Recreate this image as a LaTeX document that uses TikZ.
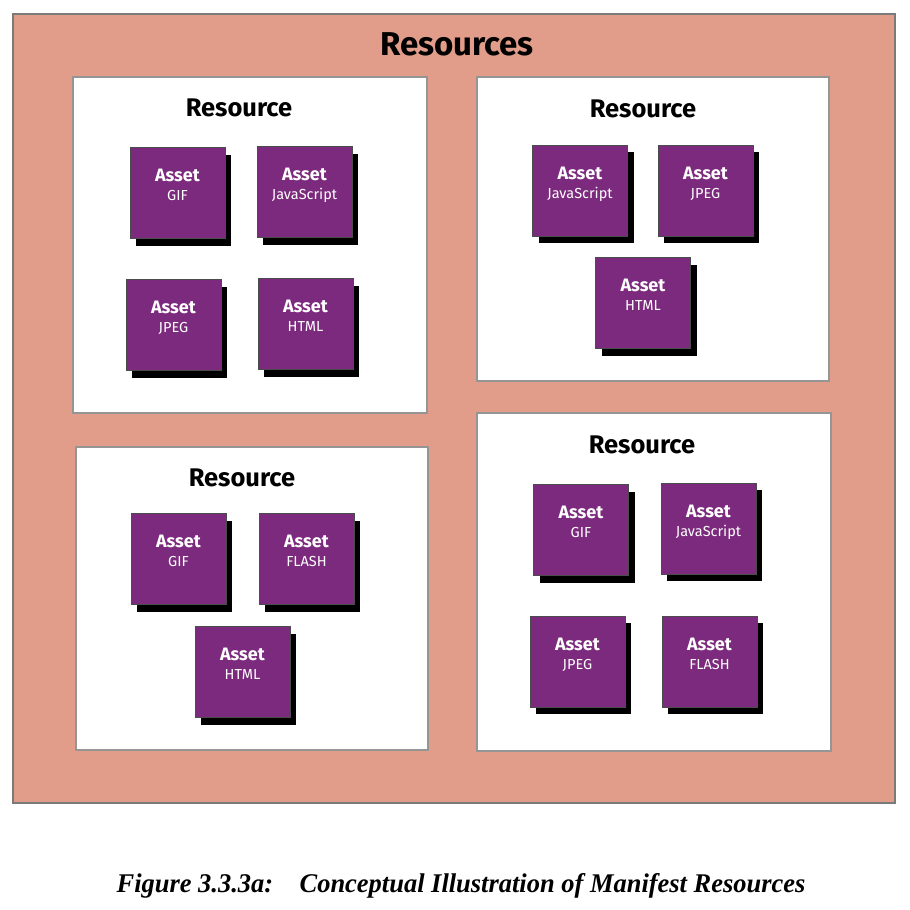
\documentclass[tikz,border=0pt]{standalone}
\usepackage{fontspec}
\setmainfont{Fira Sans}
\newfontfamily\capfont{Liberation Serif}
\usepackage{xcolor}
\usepackage{tikz}
\usetikzlibrary{shadows}
\definecolor{salmon1}{HTML}{E29C8A}
\definecolor{purple1}{HTML}{7C2A7D}
\definecolor{gray1}{HTML}{7A7A7A}

\begin{document}
\begin{tikzpicture}[
    x=1pt, y=-1pt,
    outer/.style={draw=gray1, line width=1.2pt, fill=salmon1,
                  minimum width=882pt, minimum height=789pt},
    resbox/.style={draw=gray1!80, line width=1.2pt, fill=white},
    restitle/.style={font=\bfseries\fontsize{25.5}{28}\selectfont},
    asset/.style={fill=purple1, draw=black!70, line width=0.4pt,
                  minimum width=95pt, minimum height=91pt, inner sep=0pt,
                  align=center, text=white, text depth=16pt,
                  font=\fontsize{14.5}{19}\selectfont,
                  drop shadow={shadow xshift=6pt, shadow yshift=-7pt,
                               fill=black, opacity=1}},
]
\useasboundingbox (0,0) rectangle (910,910);

\node[outer] (all) at (454,408.5) {};
\node[font=\bfseries\fontsize{33}{36}\selectfont] (title) at (457,44) {Resources};

% resource boxes
\node[resbox, minimum width=354pt, minimum height=336pt] (r1) at (250,245) {};
\node[resbox, minimum width=352pt, minimum height=304pt] (r2) at (653,229) {};
\node[resbox, minimum width=352pt, minimum height=303pt] (r3) at (252,598.5) {};
\node[resbox, minimum width=354pt, minimum height=338pt] (r4) at (654,582) {};

\node[restitle] (t1) at (239,108) {Resource};
\node[restitle] (t2) at (643,109) {Resource};
\node[restitle] (t3) at (242,478) {Resource};
\node[restitle] (t4) at (642,445) {Resource};

% assets
\node[asset] (r1gif) at (177.5,193) {\textbf{\fontsize{18}{19}\selectfont Asset}\\GIF};
\node[asset] (r1js) at (304.5,192) {\textbf{\fontsize{18}{19}\selectfont Asset}\\JavaScript};
\node[asset] (r1jpg) at (173.5,325) {\textbf{\fontsize{18}{19}\selectfont Asset}\\JPEG};
\node[asset] (r1htm) at (305.5,324) {\textbf{\fontsize{18}{19}\selectfont Asset}\\HTML};

\node[asset] (r2js) at (580,190.5) {\textbf{\fontsize{18}{19}\selectfont Asset}\\JavaScript};
\node[asset] (r2jpg) at (705.5,190.5) {\textbf{\fontsize{18}{19}\selectfont Asset}\\JPEG};
\node[asset] (r2htm) at (643,303) {\textbf{\fontsize{18}{19}\selectfont Asset}\\HTML};

\node[asset] (r3gif) at (178.5,559) {\textbf{\fontsize{18}{19}\selectfont Asset}\\GIF};
\node[asset] (r3fla) at (306.5,559) {\textbf{\fontsize{18}{19}\selectfont Asset}\\FLASH};
\node[asset] (r3htm) at (242.5,672) {\textbf{\fontsize{18}{19}\selectfont Asset}\\HTML};

\node[asset] (r4gif) at (581,530) {\textbf{\fontsize{18}{19}\selectfont Asset}\\GIF};
\node[asset] (r4js) at (708.5,528.5) {\textbf{\fontsize{18}{19}\selectfont Asset}\\JavaScript};
\node[asset] (r4jpg) at (577.5,661.5) {\textbf{\fontsize{18}{19}\selectfont Asset}\\JPEG};
\node[asset] (r4fla) at (709.5,661.5) {\textbf{\fontsize{18}{19}\selectfont Asset}\\FLASH};

% caption
\node[font=\capfont\bfseries\itshape\fontsize{27}{30}\selectfont, xscale=0.98]
    (caption) at (461,886) {Figure 3.3.3a:\quad Conceptual Illustration of Manifest Resources};
\end{tikzpicture}
\end{document}
